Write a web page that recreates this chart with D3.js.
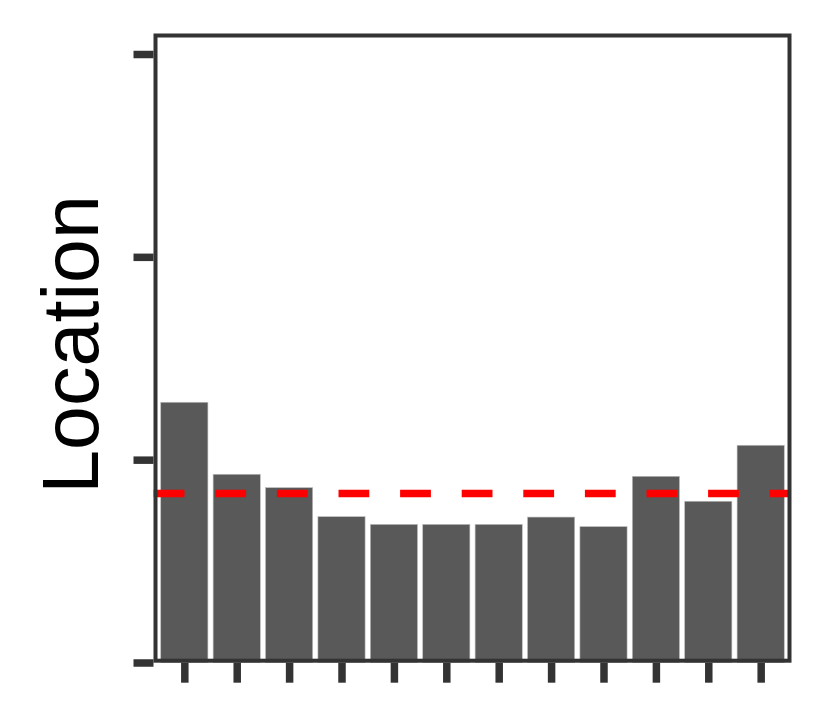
<!DOCTYPE html>
<html>
<head>
<meta charset="utf-8">
<script src="https://cdn.jsdelivr.net/npm/d3@7"></script>
<style>
  html, body { margin: 0; padding: 0; background: #fff; }
  svg { display: block; }
</style>
</head>
<body>
<div id="chart"></div>
<script>
// Data
const categories = ["1","2","3","4","5","6","7","8","9","10","11","12"];
const values = [1.283, 0.928, 0.862, 0.719, 0.681, 0.681, 0.681, 0.717, 0.670, 0.918, 0.795, 1.071];
const referenceValue = 0.833;
const yTicks = [0, 1, 2, 3];
const yLabel = "Location";

const W = 830, H = 722;
const panel = { left: 155.5, right: 789.5, top: 35.5, bottom: 660.7 };

const svg = d3.select("#chart").append("svg")
  .attr("width", W).attr("height", H);

const x = d3.scalePoint()
  .domain(categories)
  .range([panel.left, panel.right])
  .padding(0.55);

const y = d3.scaleLinear()
  .domain([0, 3])
  .range([662.5, 54]);

const barW = x.step() * 0.9;

// Bars
svg.append("g").selectAll("rect")
  .data(values)
  .join("rect")
  .attr("x", (d, i) => x(categories[i]) - barW / 2)
  .attr("width", barW)
  .attr("y", d => y(d))
  .attr("height", d => y(0) - y(d))
  .attr("fill", "#595959")
  .attr("stroke", "#bdbdbd")
  .attr("stroke-width", 0.6);

// Reference dashed line
svg.append("line")
  .attr("x1", 153.7).attr("x2", panel.right)
  .attr("y1", y(referenceValue)).attr("y2", y(referenceValue))
  .attr("stroke", "#ff0000")
  .attr("stroke-width", 7.5)
  .attr("stroke-dasharray", "30.8,30.8");

// Panel border
svg.append("rect")
  .attr("x", panel.left).attr("y", panel.top)
  .attr("width", panel.right - panel.left)
  .attr("height", panel.bottom - panel.top)
  .attr("fill", "none")
  .attr("stroke", "#333333")
  .attr("stroke-width", 4);

// Y axis ticks (no labels)
const yAxis = d3.axisLeft(y).tickValues(yTicks).tickSize(20).tickFormat("");
const gy = svg.append("g").attr("transform", `translate(${panel.left - 2},0)`).call(yAxis);
gy.select(".domain").remove();
gy.selectAll(".tick line").attr("stroke", "#333333").attr("stroke-width", 7.5);

// X axis ticks (no labels)
const xAxis = d3.axisBottom(x).tickSize(20).tickFormat("");
const gx = svg.append("g").attr("transform", `translate(0,${panel.bottom + 2})`).call(xAxis);
gx.select(".domain").remove();
gx.selectAll(".tick line").attr("stroke", "#333333").attr("stroke-width", 7.5);

// Y label
svg.append("text")
  .attr("transform", `translate(98,344.5) rotate(-90)`)
  .attr("text-anchor", "middle")
  .attr("font-family", "'Liberation Sans', Arial, Helvetica, sans-serif")
  .attr("font-size", 79)
  .attr("fill", "#000")
  .text(yLabel);
</script>
</body>
</html>
